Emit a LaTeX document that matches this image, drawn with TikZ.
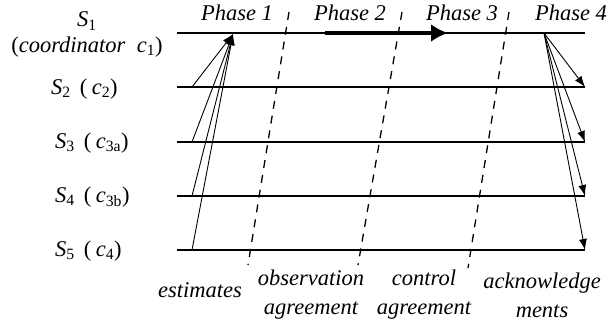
\documentclass[tikz,border=0pt]{standalone}
\usepackage{fontspec}
\setmainfont{Liberation Serif}
\usetikzlibrary{arrows.meta, positioning}
\newcommand{\Sn}[1]{\textit{S}\textsubscript{\upshape #1}}
\newcommand{\cn}[1]{\textit{c}\textsubscript{\upshape #1}}

\begin{document}
\begin{tikzpicture}[x=1pt, y=-1pt,
    every node/.style={inner sep=0pt, font=\fontsize{22.5}{29}\selectfont},
    lab/.style={anchor=west},
    note/.style={font=\fontsize{22.5}{29}\selectfont\itshape, align=center},
    proc/.style={line width=1.4pt},
    msg/.style={line width=0.9pt, -{Latex[length=11pt, width=8pt]}},
    border/.style={line width=1.3pt, dash pattern=on 8pt off 7pt}]
  \useasboundingbox (0,0) rectangle (610,322);
  % process time lines
  \foreach \i/\y in {1/33, 2/87, 3/142, 4/196, 5/250} {
    \coordinate (l\i) at (177,\y);
    \coordinate (a\i) at (192,\y);
    \coordinate (r\i) at (585,\y);
    \draw[proc] (l\i) -- (r\i);
  }
  % process names
  \node (s1) at (87,21) {\Sn{1}};
  \node (coord) [below=6pt of s1] {(\textit{coordinator}\ \ \cn{1})};
  \node[lab] (s2) at (51,89) {\Sn{2}\hspace{0.4em}(\hspace{0.2em}\cn{2})};
  \node[lab] (s3) at (55,143) {\Sn{3}\hspace{0.4em}(\hspace{0.2em}\cn{3a})};
  \node[lab] (s4) at (55,197) {\Sn{4}\hspace{0.4em}(\hspace{0.2em}\cn{3b})};
  \node[lab] (s5) at (55,251) {\Sn{5}\hspace{0.4em}(\hspace{0.2em}\cn{4})};
  % phase borders
  \coordinate (d1t) at (289,12);  \coordinate (d1b) at (248,265);
  \coordinate (d2t) at (402,12);  \coordinate (d2b) at (358,265);
  \coordinate (d3t) at (509,12);  \coordinate (d3b) at (468,268);
  \draw[border] (d1t) -- (d1b);
  \draw[border] (d2t) -- (d2b);
  \draw[border] (d3t) -- (d3b);
  \node[note] (ph1) at (237,13) {Phase 1};
  \node[note] (ph2) at (350,13) {Phase 2};
  \node[note] (ph3) at (462,13) {Phase 3};
  \node[note] (ph4) at (571,13) {Phase 4};
  % estimates to the coordinator
  \coordinate (est) at (233,34);
  \foreach \i in {2,...,5}
    \draw[msg] (a\i) -- (est);
  % time
  \coordinate (ts) at (325,33);
  \coordinate (te) at (448,33);
  \draw[line width=4pt, -{Latex[length=17pt, width=18pt]}] (ts) -- (te);
  % acknowledgements
  \coordinate (ack) at (544,33);
  \foreach \i in {2,...,5}
    \draw[msg] (ack) -- (r\i);
  % phase names
  \node[note] (n1) at (200,290) {estimates};
  \node[note] (n2) at (311,295) {observation\\agreement};
  \node[note] (n3) at (424,295) {control\\agreement};
  \node[note] (n4) at (542,295) {acknowledge\\ments};
\end{tikzpicture}
\end{document}
